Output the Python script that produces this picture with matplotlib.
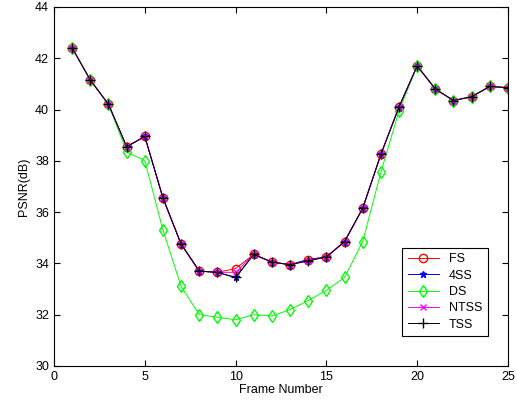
import matplotlib
matplotlib.use("Agg")
import matplotlib.pyplot as plt

plt.rcParams["font.family"] = ["Liberation Sans", "DejaVu Sans"]

frames = list(range(1, 26))
fs = [42.4, 41.15, 40.2, 38.55, 38.95, 36.55, 34.75, 33.7, 33.65, 33.8, 34.35, 34.05, 33.95,
      34.15, 34.25, 34.85, 36.15, 38.25, 40.1, 41.7, 40.8, 40.35, 40.5, 40.9, 40.85]
ss4 = [42.4, 41.15, 40.2, 38.55, 38.95, 36.55, 34.75, 33.7, 33.65, 33.45, 34.35, 34.05, 33.95,
       34.15, 34.25, 34.85, 36.15, 38.25, 40.1, 41.7, 40.8, 40.35, 40.5, 40.9, 40.85]
ds = [42.4, 41.15, 40.2, 38.35, 38.0, 35.3, 33.1, 32.0, 31.9, 31.8, 32.0, 31.95, 32.2,
      32.55, 32.95, 33.45, 34.85, 37.55, 39.95, 41.7, 40.8, 40.35, 40.5, 40.9, 40.85]
ntss = [42.4, 41.15, 40.2, 38.55, 38.95, 36.55, 34.75, 33.7, 33.65, 33.65, 34.35, 34.05, 33.95,
        34.1, 34.25, 34.85, 36.15, 38.25, 40.1, 41.7, 40.8, 40.35, 40.5, 40.9, 40.85]
tss = [42.4, 41.15, 40.2, 38.55, 38.95, 36.55, 34.75, 33.7, 33.65, 33.45, 34.35, 34.05, 33.95,
       34.1, 34.25, 34.85, 36.15, 38.25, 40.1, 41.7, 40.8, 40.35, 40.5, 40.9, 40.85]

fig = plt.figure(figsize=(5.17, 4.08), dpi=100)
ax = fig.add_axes([0.1045, 0.103, 0.878, 0.880])

ax.plot(frames, fs, color="red", marker="o", markersize=6, markerfacecolor="none", linewidth=0.7, label="FS")
ax.plot(frames, ss4, color="blue", marker="*", markersize=5, linewidth=0.7, label="4SS")
ax.plot(frames, ds, color="#00ff00", marker="d", markersize=6, markerfacecolor="none", linewidth=0.7, label="DS")
ax.plot(frames, ntss, color="magenta", marker="x", markersize=4, linewidth=0.7, label="NTSS")
ax.plot(frames, tss, color="black", marker="+", markersize=7, linewidth=0.7, label="TSS")

ax.set_xlim(0, 25)
ax.set_ylim(30, 44)
ax.set_xticks([0, 5, 10, 15, 20, 25])
ax.set_yticks([30, 32, 34, 36, 38, 40, 42, 44])
ax.tick_params(direction="in", top=True, right=True, labelsize=9, length=4)
ax.set_xlabel("Frame Number", fontsize=9, labelpad=1)
ax.set_ylabel("PSNR(dB)", fontsize=9, labelpad=4)

leg = ax.legend(loc="lower right", bbox_to_anchor=(0.97, 0.065), fontsize=9, fancybox=False,
                framealpha=1, edgecolor="black", handlelength=2.5, labelspacing=0.35, borderpad=0.45)
leg.get_frame().set_linewidth(0.8)

fig.savefig("out.png", dpi=100)
